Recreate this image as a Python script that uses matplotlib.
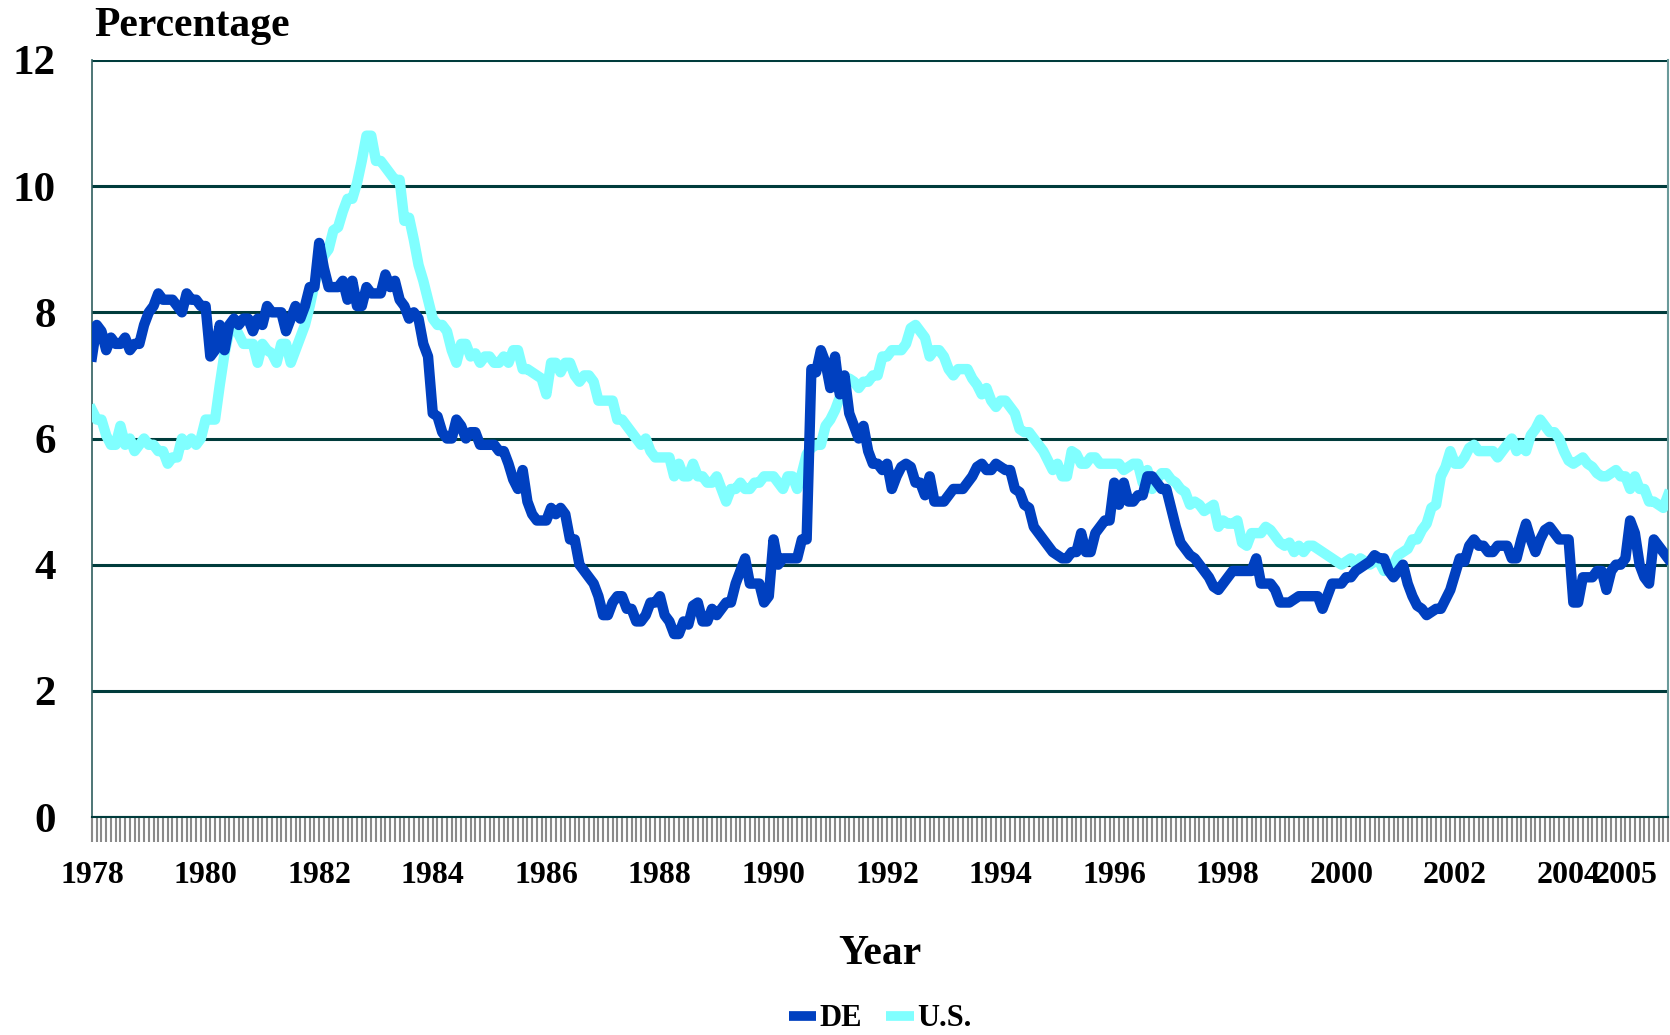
import matplotlib
matplotlib.use("Agg")
import matplotlib.pyplot as plt
import numpy as np

OUT = "out.png"

# monthly values, Jan 1978 .. Oct 2005
de = [
    7.3, 7.8, 7.7, 7.4, 7.6, 7.5, 7.5, 7.6, 7.4, 7.5, 7.5, 7.8,
    8.0, 8.1, 8.3, 8.2, 8.2, 8.2, 8.1, 8.0, 8.3, 8.2, 8.2, 8.1,
    8.1, 7.3, 7.4, 7.8, 7.4, 7.8, 7.9, 7.8, 7.9, 7.9, 7.7, 7.9,
    7.8, 8.1, 8.0, 8.0, 8.0, 7.7, 7.9, 8.1, 7.9, 8.1, 8.4, 8.4,
    9.1, 8.7, 8.4, 8.4, 8.4, 8.5, 8.2, 8.5, 8.1, 8.1, 8.4, 8.3,
    8.3, 8.3, 8.6, 8.4, 8.5, 8.2, 8.1, 7.9, 8.0, 7.9, 7.5, 7.3,
    6.4, 6.35, 6.1, 6.0, 6.0, 6.3, 6.2, 6.0, 6.1, 6.1, 5.9, 5.9,
    5.9, 5.9, 5.8, 5.8, 5.6, 5.35, 5.2, 5.5, 5.0, 4.8, 4.7, 4.7,
    4.7, 4.9, 4.8, 4.9, 4.8, 4.4, 4.4, 4.0, 3.9, 3.8, 3.7, 3.5,
    3.2, 3.2, 3.4, 3.5, 3.5, 3.3, 3.3, 3.1, 3.1, 3.2, 3.4, 3.4,
    3.5, 3.2, 3.1, 2.9, 2.9, 3.1, 3.05, 3.35, 3.4, 3.1, 3.1, 3.3,
    3.2, 3.3, 3.4, 3.4, 3.7, 3.9, 4.1, 3.7, 3.7, 3.7, 3.4, 3.5,
    4.4, 4.0, 4.1, 4.1, 4.1, 4.1, 4.4, 4.4, 7.1, 7.05, 7.4, 7.2,
    6.8, 7.3, 6.7, 7.0, 6.4, 6.2, 6.0, 6.2, 5.8, 5.6, 5.6, 5.5,
    5.6, 5.2, 5.4, 5.55, 5.6, 5.55, 5.3, 5.3, 5.1, 5.4, 5.0, 5.0,
    5.0, 5.1, 5.2, 5.2, 5.2, 5.3, 5.4, 5.55, 5.6, 5.5, 5.5, 5.6,
    5.55, 5.5, 5.5, 5.2, 5.15, 4.95, 4.9, 4.6, 4.5, 4.4, 4.3, 4.2,
    4.15, 4.1, 4.1, 4.2, 4.2, 4.5, 4.2, 4.2, 4.5, 4.6, 4.7, 4.7,
    5.3, 4.95, 5.3, 5.0, 5.0, 5.1, 5.1, 5.4, 5.4, 5.3, 5.2, 5.2,
    4.9, 4.6, 4.35, 4.25, 4.15, 4.1, 4.0, 3.9, 3.8, 3.65, 3.6, 3.7,
    3.8, 3.9, 3.9, 3.9, 3.9, 3.9, 4.1, 3.7, 3.7, 3.7, 3.6, 3.4,
    3.4, 3.4, 3.45, 3.5, 3.5, 3.5, 3.5, 3.5, 3.3, 3.5, 3.7, 3.7,
    3.7, 3.8, 3.8, 3.9, 3.95, 4.0, 4.05, 4.15, 4.1, 4.1, 3.9, 3.8,
    3.9, 4.0, 3.7, 3.5, 3.35, 3.3, 3.2, 3.25, 3.3, 3.3, 3.45, 3.6,
    3.85, 4.1, 4.05, 4.3, 4.4, 4.3, 4.3, 4.2, 4.2, 4.3, 4.3, 4.3,
    4.1, 4.1, 4.4, 4.65, 4.4, 4.2, 4.4, 4.55, 4.6, 4.5, 4.4, 4.4,
    4.4, 3.4, 3.4, 3.8, 3.8, 3.8, 3.9, 3.9, 3.6, 3.9, 4.0, 4.0,
    4.1, 4.7, 4.5, 4.0, 3.8, 3.7, 4.4, 4.3, 4.2, 4.1,
]

us = [
    6.45, 6.3, 6.3, 6.05, 5.9, 5.9, 6.2, 5.9, 6.0, 5.8, 5.9, 6.0,
    5.9, 5.9, 5.8, 5.8, 5.6, 5.7, 5.7, 6.0, 5.9, 6.0, 5.9, 6.0,
    6.3, 6.3, 6.3, 6.85, 7.35, 7.7, 7.8, 7.65, 7.5, 7.5, 7.5, 7.2,
    7.5, 7.4, 7.35, 7.2, 7.5, 7.5, 7.2, 7.4, 7.6, 7.8, 8.1, 8.45,
    8.7, 8.9, 9.0, 9.3, 9.35, 9.6, 9.8, 9.8, 10.05, 10.4, 10.8, 10.8,
    10.4, 10.4, 10.3, 10.2, 10.1, 10.1, 9.45, 9.5, 9.15, 8.75, 8.5, 8.2,
    7.9, 7.8, 7.8, 7.7, 7.4, 7.2, 7.5, 7.5, 7.3, 7.35, 7.2, 7.3,
    7.3, 7.2, 7.2, 7.3, 7.2, 7.4, 7.4, 7.1, 7.1, 7.05, 7.0, 6.95,
    6.7, 7.2, 7.2, 7.05, 7.2, 7.2, 7.0, 6.9, 7.0, 7.0, 6.9, 6.6,
    6.6, 6.6, 6.6, 6.3, 6.3, 6.2, 6.1, 6.0, 5.9, 6.0, 5.8, 5.7,
    5.7, 5.7, 5.7, 5.4, 5.6, 5.4, 5.4, 5.6, 5.4, 5.4, 5.3, 5.3,
    5.4, 5.2, 5.0, 5.2, 5.2, 5.3, 5.2, 5.2, 5.3, 5.3, 5.4, 5.4,
    5.4, 5.3, 5.2, 5.4, 5.4, 5.2, 5.45, 5.75, 5.85, 5.9, 5.9, 6.2,
    6.3, 6.45, 6.65, 6.9, 6.95, 6.9, 6.8, 6.9, 6.9, 7.0, 7.0, 7.3,
    7.3, 7.4, 7.4, 7.4, 7.5, 7.75, 7.8, 7.7, 7.6, 7.3, 7.4, 7.4,
    7.3, 7.1, 7.0, 7.1, 7.1, 7.1, 6.95, 6.85, 6.7, 6.8, 6.6, 6.5,
    6.6, 6.6, 6.5, 6.4, 6.15, 6.1, 6.1, 6.0, 5.9, 5.8, 5.65, 5.5,
    5.6, 5.4, 5.4, 5.8, 5.75, 5.6, 5.6, 5.7, 5.7, 5.6, 5.6, 5.6,
    5.6, 5.6, 5.5, 5.55, 5.6, 5.6, 5.3, 5.5, 5.2, 5.35, 5.45, 5.45,
    5.35, 5.3, 5.2, 5.15, 4.95, 5.0, 4.95, 4.85, 4.9, 4.95, 4.6, 4.7,
    4.65, 4.65, 4.7, 4.35, 4.3, 4.5, 4.5, 4.5, 4.6, 4.55, 4.45, 4.35,
    4.3, 4.35, 4.2, 4.3, 4.2, 4.3, 4.3, 4.25, 4.2, 4.15, 4.1, 4.05,
    4.0, 4.05, 4.1, 4.0, 4.1, 4.05, 4.0, 4.05, 4.05, 3.9, 4.0, 4.0,
    4.15, 4.2, 4.25, 4.4, 4.4, 4.55, 4.65, 4.9, 4.95, 5.4, 5.55, 5.8,
    5.6, 5.6, 5.7, 5.85, 5.9, 5.8, 5.8, 5.8, 5.8, 5.7, 5.8, 5.9,
    6.0, 5.8, 5.9, 5.8, 6.05, 6.15, 6.3, 6.2, 6.1, 6.1, 6.0, 5.8,
    5.65, 5.6, 5.65, 5.7, 5.6, 5.55, 5.45, 5.4, 5.4, 5.45, 5.5, 5.4,
    5.4, 5.2, 5.4, 5.2, 5.2, 5.0, 5.0, 4.95, 4.9, 5.1,
]

year_ticks = [1978, 1980, 1982, 1984, 1986, 1988, 1990, 1992, 1994,
              1996, 1998, 2000, 2002, 2004, 2005]

DE_COLOR = "#0040C0"
US_COLOR = "#80FFFF"
GRID_COLOR = "#003C3C"

x = np.arange(len(de))
plt.rcParams["font.family"] = ["Liberation Serif", "DejaVu Serif"]
plt.rcParams["font.weight"] = "bold"

fig = plt.figure(figsize=(16.7, 10.35), dpi=100)
ax = fig.add_axes([92 / 1670, 1 - 817 / 1035, 1576 / 1670, 757 / 1035])

ax.plot(x, us, color=US_COLOR, lw=7.5, label="U.S.", zorder=3, solid_joinstyle="round")
ax.plot(x, de, color=DE_COLOR, lw=7.5, label="DE", zorder=4, solid_joinstyle="round")

ax.set_xlim(0, len(de) - 1)
ax.set_ylim(0, 12)
ax.set_yticks(range(0, 13, 2))
ax.yaxis.grid(True, color=GRID_COLOR, lw=2.2)
ax.set_axisbelow(True)
ax.tick_params(axis="y", length=0, pad=26, labelsize=31)

major = [(y - 1978) * 12 for y in year_ticks]
ax.set_xticks(major)
ax.set_xticklabels([str(y) for y in year_ticks], fontsize=23, fontweight="bold")
ax.set_xticks(x, minor=True)
ax.tick_params(axis="x", which="both", direction="out", length=18, width=1.5,
               color="#8A8A8A", pad=14)

ax.spines["top"].set_visible(False)
ax.spines["left"].set_color("#2F5F5F")
ax.spines["left"].set_linewidth(1.2)
ax.spines["right"].set_color("#6A9A9A")
ax.spines["right"].set_linewidth(1.5)
ax.spines["bottom"].set_color(GRID_COLOR)
ax.spines["bottom"].set_linewidth(1.5)
ax.spines["bottom"].set_linestyle((0, (2, 1)))

fig.text(94 / 1670, 1 - 26 / 1035, "Percentage", fontsize=30, fontweight="bold",
         ha="left", va="center")
fig.text(880 / 1670, 1 - 954 / 1035, "Year", fontsize=30, fontweight="bold",
         ha="center", va="center")

h, l = ax.get_legend_handles_labels()
leg = fig.legend(h[::-1], l[::-1], loc="center", bbox_to_anchor=(880 / 1670, 1 - 1019 / 1035),
                 ncol=2, frameon=False, fontsize=22, handlelength=0.9,
                 handletextpad=0.1, columnspacing=0.8, borderaxespad=0)
for line in leg.get_lines():
    line.set_linewidth(7)
    line.set_solid_capstyle("butt")

fig.savefig(OUT, dpi=100)
